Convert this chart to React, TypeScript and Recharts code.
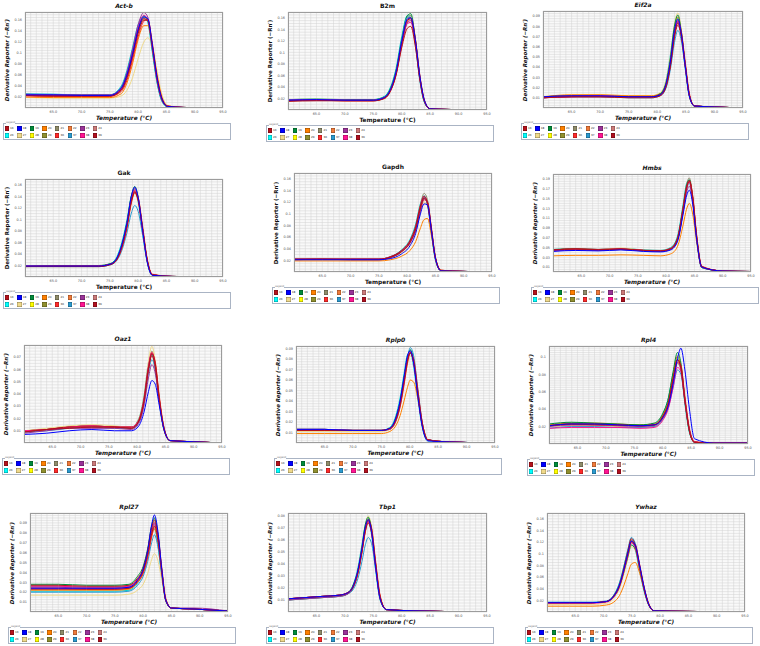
import { LineChart, Line, XAxis, YAxis, CartesianGrid } from "recharts";

// legend entries shared by every panel
const sampleIds = ["16", "18", "19", "20", "21", "22", "23", "24", "26", "27", "28", "29", "36", "37", "38", "39"];
const sampleColors = [
  "#b5121b", "#0000ff", "#008b3a", "#ff8000", "#8f8c6a", "#f07a3a", "#993399", "#cc7a7a",
  "#00ffff", "#efd98a", "#ffff00", "#8f8f2f", "#ff2a2a", "#2a9ad0", "#ff1493", "#b01020",
];
// colours of the drawn curves (subset of the legend)
const curveColors = [
  "#8f8c6a", "#efd98a", "#ff8000", "#008b3a", "#b5121b", "#993399", "#2a9ad0", "#0000ff",
  "#ff2a2a", "#ff1493", "#00d0d0", "#b01020",
];
// paint order: cyan first, blue last (on top)
const drawOrder = [10, 0, 1, 2, 3, 6, 8, 9, 5, 4, 11, 7];

const xTickLabels = [65, 70, 75, 80, 85, 90, 95];

const ticks02 = [0.02, 0.04, 0.06, 0.08, 0.1, 0.12, 0.14, 0.16];
const ticks01to09 = [0.01, 0.02, 0.03, 0.04, 0.05, 0.06, 0.07, 0.08, 0.09];
const oaz1YTicks = [0.01, 0.02, 0.03, 0.04, 0.05, 0.06, 0.07];
const tbp1YTicks = [0.01, 0.02, 0.03, 0.04, 0.05, 0.06, 0.07, 0.08];
const rpl4YTicks = [0.02, 0.04, 0.06, 0.08, 0.1];
const hmbsYTicks = [0.01, 0.03, 0.05, 0.07, 0.09, 0.11, 0.13, 0.15, 0.17, 0.19];

// ---- Act-b
const actbTemp = [60, 65, 70, 75, 77, 78, 79, 80, 81, 81.7, 82.5, 83.3, 84.2, 85.2, 88, 95];
const actbCurves = [
  [0.024, 0.023, 0.023, 0.023, 0.034, 0.058, 0.097, 0.14, 0.162, 0.158, 0.11, 0.055, 0.016, 0.003, 0.001, 0],
  [0.019, 0.018, 0.018, 0.018, 0.022, 0.032, 0.055, 0.09, 0.12, 0.128, 0.112, 0.07, 0.025, 0.005, 0.001, 0],
  [0.02, 0.019, 0.019, 0.019, 0.026, 0.045, 0.08, 0.125, 0.15, 0.15, 0.115, 0.062, 0.02, 0.004, 0.001, 0],
  [0.024, 0.023, 0.023, 0.023, 0.036, 0.062, 0.102, 0.145, 0.166, 0.16, 0.108, 0.052, 0.014, 0.003, 0.001, 0],
  [0.023, 0.022, 0.022, 0.022, 0.033, 0.057, 0.096, 0.14, 0.163, 0.16, 0.112, 0.056, 0.016, 0.003, 0.001, 0],
  [0.025, 0.024, 0.024, 0.024, 0.037, 0.064, 0.106, 0.152, 0.174, 0.166, 0.113, 0.054, 0.015, 0.003, 0.001, 0],
  [0.026, 0.025, 0.024, 0.024, 0.038, 0.065, 0.105, 0.148, 0.168, 0.16, 0.106, 0.05, 0.013, 0.002, 0.001, 0],
  [0.024, 0.024, 0.023, 0.023, 0.036, 0.06, 0.098, 0.143, 0.166, 0.163, 0.116, 0.058, 0.017, 0.003, 0.001, 0],
  [0.022, 0.021, 0.021, 0.021, 0.03, 0.05, 0.087, 0.13, 0.158, 0.162, 0.12, 0.062, 0.019, 0.004, 0.001, 0],
  [0.024, 0.023, 0.023, 0.023, 0.035, 0.06, 0.1, 0.146, 0.169, 0.162, 0.11, 0.053, 0.015, 0.003, 0.001, 0],
  [0.025, 0.025, 0.024, 0.024, 0.04, 0.068, 0.11, 0.152, 0.168, 0.156, 0.102, 0.048, 0.012, 0.002, 0.001, 0],
  [0.023, 0.022, 0.022, 0.022, 0.032, 0.054, 0.092, 0.136, 0.16, 0.16, 0.114, 0.058, 0.017, 0.003, 0.001, 0],
];

// ---- B2m
const b2mTemp = [60, 65, 70, 75, 77, 78, 79, 80, 81, 81.6, 82.4, 83.2, 84, 85, 88, 95];
const b2mCurves = [
  [0.017, 0.018, 0.017, 0.017, 0.022, 0.036, 0.067, 0.12, 0.162, 0.164, 0.12, 0.054, 0.014, 0.002, 0.001, 0],
  [0.016, 0.017, 0.016, 0.016, 0.02, 0.033, 0.062, 0.114, 0.157, 0.162, 0.124, 0.058, 0.016, 0.002, 0.001, 0],
  [0.017, 0.018, 0.017, 0.017, 0.022, 0.035, 0.066, 0.119, 0.16, 0.16, 0.121, 0.056, 0.015, 0.002, 0.001, 0],
  [0.018, 0.019, 0.018, 0.018, 0.023, 0.037, 0.068, 0.122, 0.164, 0.167, 0.123, 0.057, 0.015, 0.002, 0.001, 0],
  [0.015, 0.016, 0.016, 0.016, 0.02, 0.032, 0.06, 0.108, 0.142, 0.145, 0.11, 0.052, 0.015, 0.002, 0.001, 0],
  [0.017, 0.018, 0.017, 0.017, 0.022, 0.035, 0.064, 0.115, 0.152, 0.155, 0.116, 0.054, 0.015, 0.002, 0.001, 0],
  [0.018, 0.018, 0.017, 0.017, 0.023, 0.036, 0.067, 0.121, 0.161, 0.161, 0.117, 0.052, 0.013, 0.002, 0.001, 0],
  [0.017, 0.018, 0.017, 0.017, 0.022, 0.035, 0.066, 0.119, 0.158, 0.16, 0.122, 0.058, 0.017, 0.002, 0.001, 0],
  [0.016, 0.017, 0.016, 0.016, 0.021, 0.033, 0.061, 0.112, 0.153, 0.16, 0.124, 0.06, 0.017, 0.002, 0.001, 0],
  [0.017, 0.018, 0.017, 0.017, 0.022, 0.034, 0.063, 0.114, 0.15, 0.152, 0.115, 0.054, 0.015, 0.002, 0.001, 0],
  [0.018, 0.018, 0.018, 0.018, 0.024, 0.039, 0.072, 0.127, 0.164, 0.16, 0.113, 0.05, 0.013, 0.002, 0.001, 0],
  [0.016, 0.017, 0.016, 0.016, 0.021, 0.034, 0.063, 0.116, 0.156, 0.158, 0.12, 0.056, 0.016, 0.002, 0.001, 0],
];

// ---- Eif2a
const eif2aTemp = [60, 65, 70, 75, 79, 80.5, 81.5, 82.3, 83, 83.6, 84.2, 84.9, 85.6, 86.5, 90, 95];
const eif2aCurves = [
  [0.011, 0.012, 0.012, 0.011, 0.011, 0.013, 0.022, 0.044, 0.074, 0.086, 0.073, 0.042, 0.013, 0.002, 0.001, 0],
  [0.011, 0.012, 0.013, 0.012, 0.012, 0.015, 0.026, 0.051, 0.082, 0.093, 0.077, 0.043, 0.013, 0.002, 0.001, 0],
  [0.011, 0.013, 0.013, 0.012, 0.012, 0.014, 0.024, 0.048, 0.078, 0.089, 0.074, 0.041, 0.012, 0.002, 0.001, 0],
  [0.011, 0.012, 0.012, 0.011, 0.011, 0.014, 0.024, 0.049, 0.08, 0.091, 0.075, 0.041, 0.012, 0.002, 0.001, 0],
  [0.01, 0.011, 0.011, 0.01, 0.01, 0.012, 0.02, 0.041, 0.069, 0.081, 0.07, 0.041, 0.013, 0.002, 0.001, 0],
  [0.01, 0.011, 0.011, 0.011, 0.011, 0.012, 0.021, 0.042, 0.071, 0.084, 0.072, 0.042, 0.013, 0.002, 0.001, 0],
  [0.01, 0.011, 0.011, 0.01, 0.01, 0.012, 0.019, 0.038, 0.064, 0.076, 0.066, 0.039, 0.013, 0.002, 0.001, 0],
  [0.011, 0.012, 0.012, 0.011, 0.011, 0.013, 0.023, 0.046, 0.076, 0.087, 0.073, 0.041, 0.012, 0.002, 0.001, 0],
  [0.011, 0.012, 0.012, 0.011, 0.011, 0.013, 0.021, 0.042, 0.071, 0.085, 0.075, 0.045, 0.015, 0.002, 0.001, 0],
  [0.01, 0.011, 0.012, 0.011, 0.011, 0.013, 0.022, 0.045, 0.074, 0.085, 0.071, 0.04, 0.012, 0.002, 0.001, 0],
  [0.011, 0.012, 0.012, 0.011, 0.011, 0.014, 0.026, 0.052, 0.08, 0.088, 0.07, 0.038, 0.011, 0.002, 0.001, 0],
  [0.01, 0.011, 0.011, 0.011, 0.011, 0.013, 0.022, 0.043, 0.072, 0.083, 0.072, 0.042, 0.013, 0.002, 0.001, 0],
];

// ---- Gak
const gakTemp = [60, 65, 70, 73, 75, 76, 77, 78, 78.8, 79.4, 80, 80.8, 81.6, 82.5, 86, 95];
const gakCurves = [
  [0.019, 0.019, 0.019, 0.019, 0.022, 0.028, 0.05, 0.09, 0.136, 0.152, 0.136, 0.082, 0.028, 0.004, 0.001, 0],
  [0.018, 0.018, 0.018, 0.018, 0.021, 0.027, 0.047, 0.085, 0.128, 0.144, 0.131, 0.08, 0.029, 0.004, 0.001, 0],
  [0.019, 0.019, 0.019, 0.019, 0.022, 0.028, 0.049, 0.088, 0.133, 0.15, 0.136, 0.084, 0.03, 0.004, 0.001, 0],
  [0.02, 0.02, 0.02, 0.02, 0.023, 0.029, 0.052, 0.094, 0.141, 0.157, 0.139, 0.083, 0.028, 0.004, 0.001, 0],
  [0.018, 0.019, 0.019, 0.019, 0.022, 0.028, 0.049, 0.088, 0.132, 0.148, 0.134, 0.082, 0.029, 0.004, 0.001, 0],
  [0.019, 0.019, 0.019, 0.019, 0.022, 0.029, 0.051, 0.092, 0.138, 0.154, 0.137, 0.082, 0.028, 0.004, 0.001, 0],
  [0.018, 0.018, 0.018, 0.018, 0.021, 0.026, 0.043, 0.076, 0.111, 0.124, 0.114, 0.072, 0.027, 0.004, 0.001, 0],
  [0.019, 0.019, 0.019, 0.019, 0.022, 0.029, 0.052, 0.093, 0.14, 0.156, 0.138, 0.081, 0.027, 0.003, 0.001, 0],
  [0.019, 0.019, 0.019, 0.019, 0.022, 0.027, 0.046, 0.083, 0.128, 0.147, 0.138, 0.088, 0.032, 0.005, 0.001, 0],
  [0.019, 0.019, 0.019, 0.019, 0.022, 0.028, 0.05, 0.09, 0.135, 0.15, 0.134, 0.08, 0.027, 0.004, 0.001, 0],
  [0.019, 0.019, 0.019, 0.019, 0.023, 0.031, 0.056, 0.098, 0.14, 0.15, 0.13, 0.075, 0.025, 0.003, 0.001, 0],
  [0.018, 0.018, 0.018, 0.018, 0.021, 0.027, 0.048, 0.087, 0.131, 0.146, 0.133, 0.082, 0.03, 0.004, 0.001, 0],
];

// ---- Gapdh
const gapdhTemp = [60, 65, 70, 75, 77, 79, 80.5, 81.5, 82.3, 83, 83.6, 84.3, 85, 86, 90, 95];
const gapdhCurves = [
  [0.022, 0.022, 0.022, 0.022, 0.026, 0.037, 0.054, 0.079, 0.114, 0.135, 0.124, 0.073, 0.023, 0.002, 0.001, 0],
  [0.021, 0.021, 0.021, 0.021, 0.024, 0.033, 0.047, 0.068, 0.1, 0.12, 0.113, 0.068, 0.023, 0.002, 0.001, 0],
  [0.019, 0.019, 0.019, 0.019, 0.021, 0.027, 0.037, 0.052, 0.074, 0.09, 0.092, 0.062, 0.024, 0.003, 0.001, 0],
  [0.022, 0.022, 0.022, 0.022, 0.025, 0.035, 0.051, 0.074, 0.107, 0.127, 0.116, 0.068, 0.022, 0.002, 0.001, 0],
  [0.022, 0.022, 0.022, 0.022, 0.026, 0.037, 0.054, 0.078, 0.112, 0.13, 0.119, 0.071, 0.024, 0.002, 0.001, 0],
  [0.022, 0.022, 0.022, 0.022, 0.025, 0.035, 0.05, 0.073, 0.106, 0.126, 0.116, 0.069, 0.022, 0.002, 0.001, 0],
  [0.022, 0.023, 0.022, 0.022, 0.026, 0.036, 0.052, 0.076, 0.109, 0.128, 0.12, 0.072, 0.024, 0.002, 0.001, 0],
  [0.021, 0.021, 0.021, 0.021, 0.023, 0.031, 0.045, 0.066, 0.098, 0.117, 0.115, 0.071, 0.024, 0.002, 0.001, 0],
  [0.022, 0.022, 0.022, 0.022, 0.025, 0.035, 0.05, 0.071, 0.103, 0.124, 0.12, 0.076, 0.026, 0.003, 0.001, 0],
  [0.022, 0.022, 0.022, 0.022, 0.026, 0.036, 0.053, 0.077, 0.111, 0.13, 0.118, 0.07, 0.023, 0.002, 0.001, 0],
  [0.022, 0.022, 0.022, 0.022, 0.026, 0.038, 0.056, 0.082, 0.116, 0.131, 0.115, 0.065, 0.02, 0.002, 0.001, 0],
  [0.021, 0.022, 0.021, 0.021, 0.025, 0.035, 0.051, 0.074, 0.108, 0.127, 0.119, 0.073, 0.025, 0.003, 0.001, 0],
];

// ---- Hmbs
const hmbsTemp = [60, 64, 68, 72, 76, 79, 80.8, 82, 83, 83.6, 84.1, 84.7, 85.4, 86.3, 90, 95];
const hmbsCurves = [
  [0.046, 0.048, 0.046, 0.048, 0.045, 0.044, 0.049, 0.07, 0.134, 0.178, 0.192, 0.154, 0.071, 0.01, 0.002, 0.001],
  [0.044, 0.046, 0.045, 0.049, 0.044, 0.043, 0.047, 0.066, 0.127, 0.17, 0.186, 0.151, 0.071, 0.01, 0.002, 0.001],
  [0.033, 0.034, 0.034, 0.035, 0.034, 0.033, 0.037, 0.052, 0.096, 0.128, 0.14, 0.118, 0.06, 0.01, 0.002, 0.001],
  [0.045, 0.047, 0.045, 0.047, 0.044, 0.043, 0.048, 0.069, 0.132, 0.175, 0.188, 0.15, 0.068, 0.009, 0.002, 0.001],
  [0.045, 0.047, 0.046, 0.047, 0.044, 0.043, 0.048, 0.068, 0.13, 0.173, 0.187, 0.151, 0.07, 0.01, 0.002, 0.001],
  [0.043, 0.045, 0.044, 0.046, 0.043, 0.042, 0.046, 0.064, 0.122, 0.162, 0.175, 0.143, 0.068, 0.01, 0.002, 0.001],
  [0.044, 0.046, 0.044, 0.046, 0.043, 0.042, 0.047, 0.066, 0.126, 0.168, 0.181, 0.146, 0.068, 0.009, 0.002, 0.001],
  [0.042, 0.044, 0.043, 0.045, 0.042, 0.041, 0.045, 0.062, 0.118, 0.155, 0.167, 0.138, 0.067, 0.01, 0.002, 0.001],
  [0.045, 0.047, 0.046, 0.047, 0.044, 0.043, 0.047, 0.065, 0.124, 0.168, 0.185, 0.156, 0.076, 0.012, 0.002, 0.001],
  [0.044, 0.046, 0.045, 0.047, 0.044, 0.043, 0.048, 0.068, 0.13, 0.172, 0.184, 0.148, 0.068, 0.01, 0.002, 0.001],
  [0.046, 0.048, 0.046, 0.048, 0.045, 0.044, 0.05, 0.073, 0.138, 0.18, 0.188, 0.146, 0.064, 0.009, 0.002, 0.001],
  [0.045, 0.047, 0.045, 0.047, 0.044, 0.043, 0.047, 0.067, 0.128, 0.171, 0.185, 0.152, 0.072, 0.011, 0.002, 0.001],
];

// ---- Oaz1
const oaz1Temp = [60, 64, 68, 72, 76, 79, 80.3, 81.2, 82, 82.6, 83.2, 83.9, 84.7, 85.8, 90, 95];
const oaz1Curves = [
  [0.01, 0.011, 0.013, 0.014, 0.013, 0.013, 0.019, 0.036, 0.063, 0.075, 0.064, 0.036, 0.012, 0.002, 0.001, 0],
  [0.01, 0.012, 0.014, 0.015, 0.014, 0.013, 0.02, 0.038, 0.067, 0.079, 0.067, 0.037, 0.012, 0.002, 0.001, 0],
  [0.01, 0.011, 0.013, 0.014, 0.013, 0.013, 0.019, 0.035, 0.062, 0.074, 0.064, 0.036, 0.012, 0.002, 0.001, 0],
  [0.01, 0.011, 0.013, 0.014, 0.013, 0.013, 0.019, 0.036, 0.062, 0.073, 0.063, 0.036, 0.013, 0.002, 0.001, 0],
  [0.009, 0.011, 0.013, 0.013, 0.013, 0.012, 0.018, 0.034, 0.06, 0.071, 0.062, 0.035, 0.012, 0.002, 0.001, 0],
  [0.008, 0.01, 0.012, 0.012, 0.012, 0.011, 0.016, 0.03, 0.053, 0.064, 0.057, 0.034, 0.012, 0.002, 0.001, 0],
  [0.009, 0.01, 0.012, 0.013, 0.012, 0.012, 0.017, 0.032, 0.057, 0.068, 0.06, 0.035, 0.013, 0.002, 0.001, 0],
  [0.007, 0.008, 0.01, 0.011, 0.01, 0.01, 0.014, 0.025, 0.042, 0.051, 0.048, 0.031, 0.012, 0.002, 0.001, 0],
  [0.01, 0.011, 0.013, 0.014, 0.013, 0.013, 0.018, 0.034, 0.06, 0.073, 0.066, 0.039, 0.014, 0.002, 0.001, 0],
  [0.01, 0.011, 0.013, 0.014, 0.013, 0.013, 0.019, 0.036, 0.063, 0.074, 0.063, 0.035, 0.012, 0.002, 0.001, 0],
  [0.01, 0.011, 0.013, 0.014, 0.013, 0.013, 0.02, 0.038, 0.065, 0.072, 0.06, 0.033, 0.011, 0.002, 0.001, 0],
  [0.009, 0.011, 0.012, 0.013, 0.013, 0.012, 0.018, 0.034, 0.061, 0.073, 0.065, 0.037, 0.013, 0.002, 0.001, 0],
];

// ---- Rplp0
const rplp0Temp = [60, 65, 70, 75, 76.5, 77.5, 78.3, 79, 79.6, 80.1, 80.7, 81.4, 82.2, 83.2, 87, 95];
const rplp0Curves = [
  [0.013, 0.013, 0.012, 0.012, 0.014, 0.022, 0.038, 0.061, 0.081, 0.088, 0.078, 0.049, 0.018, 0.003, 0.001, 0],
  [0.011, 0.011, 0.011, 0.011, 0.013, 0.02, 0.035, 0.056, 0.075, 0.083, 0.076, 0.05, 0.019, 0.003, 0.001, 0],
  [0.009, 0.009, 0.009, 0.009, 0.011, 0.016, 0.026, 0.04, 0.053, 0.06, 0.058, 0.043, 0.019, 0.003, 0.001, 0],
  [0.013, 0.013, 0.012, 0.012, 0.014, 0.023, 0.039, 0.062, 0.082, 0.089, 0.079, 0.049, 0.017, 0.003, 0.001, 0],
  [0.012, 0.012, 0.012, 0.012, 0.014, 0.022, 0.038, 0.06, 0.079, 0.086, 0.076, 0.047, 0.017, 0.003, 0.001, 0],
  [0.013, 0.013, 0.012, 0.012, 0.014, 0.022, 0.037, 0.059, 0.079, 0.086, 0.077, 0.049, 0.018, 0.003, 0.001, 0],
  [0.012, 0.012, 0.012, 0.012, 0.013, 0.02, 0.035, 0.057, 0.08, 0.091, 0.083, 0.053, 0.02, 0.003, 0.001, 0],
  [0.013, 0.013, 0.012, 0.012, 0.014, 0.023, 0.04, 0.063, 0.083, 0.088, 0.076, 0.046, 0.016, 0.002, 0.001, 0],
  [0.012, 0.012, 0.012, 0.012, 0.013, 0.02, 0.034, 0.055, 0.076, 0.086, 0.08, 0.052, 0.02, 0.003, 0.001, 0],
  [0.013, 0.013, 0.012, 0.012, 0.014, 0.022, 0.038, 0.061, 0.081, 0.087, 0.076, 0.047, 0.017, 0.003, 0.001, 0],
  [0.013, 0.013, 0.012, 0.012, 0.015, 0.025, 0.043, 0.066, 0.084, 0.086, 0.072, 0.043, 0.015, 0.002, 0.001, 0],
  [0.012, 0.012, 0.012, 0.012, 0.014, 0.021, 0.036, 0.058, 0.078, 0.086, 0.078, 0.05, 0.019, 0.003, 0.001, 0],
];

// ---- Rpl4
const rpl4Temp = [60, 64, 68, 72, 76, 78.5, 80, 81, 81.8, 82.6, 83.2, 83.9, 84.7, 85.6, 89, 95];
const rpl4Curves = [
  [0.021, 0.023, 0.023, 0.022, 0.021, 0.022, 0.031, 0.047, 0.073, 0.096, 0.087, 0.05, 0.015, 0.002, 0.001, 0.001],
  [0.019, 0.021, 0.021, 0.02, 0.019, 0.02, 0.029, 0.044, 0.069, 0.092, 0.085, 0.05, 0.016, 0.002, 0.001, 0.001],
  [0.022, 0.024, 0.024, 0.023, 0.022, 0.023, 0.033, 0.05, 0.078, 0.101, 0.09, 0.051, 0.015, 0.002, 0.001, 0.001],
  [0.023, 0.025, 0.024, 0.023, 0.022, 0.024, 0.035, 0.053, 0.082, 0.105, 0.093, 0.051, 0.014, 0.002, 0.001, 0.001],
  [0.021, 0.023, 0.023, 0.022, 0.021, 0.022, 0.032, 0.048, 0.075, 0.097, 0.087, 0.049, 0.015, 0.002, 0.001, 0.001],
  [0.02, 0.022, 0.022, 0.021, 0.02, 0.021, 0.03, 0.046, 0.071, 0.093, 0.085, 0.049, 0.015, 0.002, 0.001, 0.001],
  [0.018, 0.02, 0.02, 0.019, 0.019, 0.02, 0.028, 0.042, 0.064, 0.085, 0.08, 0.048, 0.016, 0.002, 0.001, 0.001],
  [0.021, 0.023, 0.023, 0.022, 0.021, 0.022, 0.03, 0.044, 0.068, 0.098, 0.11, 0.085, 0.04, 0.006, 0.001, 0.001],
  [0.021, 0.022, 0.022, 0.021, 0.021, 0.022, 0.03, 0.045, 0.07, 0.094, 0.09, 0.055, 0.018, 0.003, 0.001, 0.001],
  [0.018, 0.019, 0.019, 0.019, 0.018, 0.019, 0.027, 0.041, 0.064, 0.088, 0.083, 0.05, 0.016, 0.002, 0.001, 0.001],
  [0.022, 0.024, 0.023, 0.022, 0.021, 0.023, 0.034, 0.053, 0.08, 0.1, 0.086, 0.046, 0.013, 0.002, 0.001, 0.001],
  [0.021, 0.023, 0.022, 0.022, 0.021, 0.022, 0.031, 0.047, 0.073, 0.097, 0.089, 0.052, 0.016, 0.002, 0.001, 0.001],
];

// ---- Rpl27
const rpl27Temp = [60, 65, 70, 75, 77.5, 79, 80, 80.8, 81.5, 82, 82.6, 83.3, 84, 85, 89, 95];
const rpl27Curves = [
  [0.026, 0.026, 0.025, 0.025, 0.026, 0.033, 0.043, 0.061, 0.083, 0.091, 0.076, 0.041, 0.012, 0.004, 0.003, 0.001],
  [0.017, 0.017, 0.017, 0.017, 0.018, 0.022, 0.028, 0.039, 0.053, 0.059, 0.052, 0.032, 0.011, 0.004, 0.003, 0.001],
  [0.022, 0.022, 0.022, 0.022, 0.023, 0.03, 0.039, 0.056, 0.076, 0.084, 0.071, 0.039, 0.012, 0.004, 0.003, 0.001],
  [0.028, 0.028, 0.027, 0.027, 0.028, 0.036, 0.046, 0.064, 0.087, 0.095, 0.079, 0.042, 0.012, 0.004, 0.003, 0.001],
  [0.023, 0.023, 0.023, 0.023, 0.024, 0.031, 0.041, 0.058, 0.079, 0.087, 0.073, 0.04, 0.012, 0.004, 0.003, 0.001],
  [0.025, 0.025, 0.024, 0.024, 0.025, 0.032, 0.042, 0.059, 0.081, 0.089, 0.075, 0.04, 0.012, 0.004, 0.004, 0.001],
  [0.02, 0.02, 0.02, 0.02, 0.021, 0.027, 0.036, 0.051, 0.07, 0.078, 0.066, 0.037, 0.012, 0.004, 0.003, 0.001],
  [0.024, 0.024, 0.024, 0.024, 0.025, 0.032, 0.043, 0.062, 0.088, 0.098, 0.082, 0.043, 0.012, 0.004, 0.003, 0.001],
  [0.024, 0.024, 0.023, 0.023, 0.024, 0.03, 0.039, 0.055, 0.076, 0.086, 0.078, 0.045, 0.014, 0.004, 0.003, 0.001],
  [0.026, 0.026, 0.025, 0.025, 0.026, 0.033, 0.043, 0.061, 0.083, 0.09, 0.075, 0.04, 0.012, 0.004, 0.003, 0.001],
  [0.021, 0.021, 0.021, 0.021, 0.022, 0.029, 0.04, 0.058, 0.079, 0.084, 0.068, 0.036, 0.011, 0.004, 0.003, 0.001],
  [0.027, 0.027, 0.026, 0.026, 0.027, 0.034, 0.044, 0.062, 0.085, 0.093, 0.078, 0.042, 0.012, 0.004, 0.003, 0.001],
];

// ---- Tbp1
const tbp1Temp = [60, 63, 66, 69, 70.5, 71.5, 72.3, 73, 73.6, 74.1, 74.7, 75.4, 76.2, 77.3, 82, 95];
const tbp1Curves = [
  [0.011, 0.012, 0.013, 0.014, 0.016, 0.022, 0.034, 0.053, 0.071, 0.078, 0.069, 0.04, 0.012, 0.002, 0.001, 0],
  [0.011, 0.012, 0.013, 0.014, 0.016, 0.022, 0.035, 0.054, 0.072, 0.08, 0.071, 0.041, 0.012, 0.002, 0.001, 0],
  [0.01, 0.011, 0.012, 0.013, 0.015, 0.021, 0.032, 0.05, 0.068, 0.075, 0.067, 0.04, 0.013, 0.002, 0.001, 0],
  [0.011, 0.012, 0.013, 0.014, 0.016, 0.023, 0.035, 0.054, 0.073, 0.079, 0.069, 0.039, 0.011, 0.002, 0.001, 0],
  [0.011, 0.012, 0.013, 0.014, 0.016, 0.021, 0.033, 0.05, 0.067, 0.074, 0.066, 0.039, 0.012, 0.002, 0.001, 0],
  [0.01, 0.011, 0.012, 0.013, 0.015, 0.021, 0.033, 0.051, 0.069, 0.076, 0.067, 0.039, 0.012, 0.002, 0.001, 0],
  [0.01, 0.011, 0.012, 0.013, 0.015, 0.019, 0.028, 0.042, 0.056, 0.062, 0.057, 0.036, 0.012, 0.002, 0.001, 0],
  [0.011, 0.012, 0.013, 0.014, 0.016, 0.022, 0.035, 0.053, 0.071, 0.077, 0.067, 0.038, 0.011, 0.002, 0.001, 0],
  [0.011, 0.012, 0.013, 0.014, 0.016, 0.021, 0.032, 0.049, 0.067, 0.076, 0.07, 0.043, 0.014, 0.002, 0.001, 0],
  [0.011, 0.012, 0.013, 0.014, 0.016, 0.022, 0.034, 0.052, 0.069, 0.075, 0.066, 0.038, 0.011, 0.002, 0.001, 0],
  [0.01, 0.011, 0.012, 0.013, 0.015, 0.023, 0.037, 0.056, 0.072, 0.076, 0.064, 0.035, 0.01, 0.002, 0.001, 0],
  [0.011, 0.012, 0.013, 0.014, 0.016, 0.022, 0.034, 0.052, 0.07, 0.077, 0.069, 0.041, 0.013, 0.002, 0.001, 0],
];

// ---- Ywhaz
const ywhazTemp = [60, 64, 68, 70.5, 71.8, 72.8, 73.6, 74.3, 74.9, 75.6, 76.4, 77.2, 78, 79, 85, 95];
const ywhazCurves = [
  [0.016, 0.016, 0.016, 0.018, 0.027, 0.046, 0.074, 0.103, 0.124, 0.114, 0.076, 0.038, 0.012, 0.002, 0.001, 0],
  [0.013, 0.013, 0.013, 0.015, 0.023, 0.04, 0.065, 0.092, 0.112, 0.106, 0.074, 0.039, 0.013, 0.002, 0.001, 0],
  [0.01, 0.01, 0.01, 0.012, 0.017, 0.028, 0.046, 0.066, 0.082, 0.085, 0.066, 0.038, 0.014, 0.002, 0.001, 0],
  [0.016, 0.016, 0.016, 0.018, 0.026, 0.043, 0.069, 0.095, 0.115, 0.108, 0.073, 0.037, 0.012, 0.002, 0.001, 0],
  [0.016, 0.016, 0.016, 0.018, 0.028, 0.047, 0.076, 0.105, 0.126, 0.115, 0.076, 0.038, 0.012, 0.002, 0.001, 0],
  [0.016, 0.016, 0.016, 0.018, 0.027, 0.045, 0.073, 0.101, 0.121, 0.112, 0.076, 0.039, 0.012, 0.002, 0.001, 0],
  [0.017, 0.017, 0.017, 0.019, 0.029, 0.049, 0.078, 0.108, 0.128, 0.118, 0.078, 0.039, 0.012, 0.002, 0.001, 0],
  [0.016, 0.016, 0.016, 0.018, 0.027, 0.046, 0.073, 0.101, 0.122, 0.115, 0.079, 0.041, 0.013, 0.002, 0.001, 0],
  [0.016, 0.016, 0.016, 0.018, 0.026, 0.043, 0.07, 0.097, 0.119, 0.116, 0.081, 0.042, 0.014, 0.002, 0.001, 0],
  [0.015, 0.015, 0.015, 0.017, 0.026, 0.044, 0.071, 0.099, 0.119, 0.11, 0.074, 0.037, 0.012, 0.002, 0.001, 0],
  [0.016, 0.016, 0.016, 0.018, 0.029, 0.05, 0.079, 0.106, 0.12, 0.107, 0.069, 0.034, 0.011, 0.002, 0.001, 0],
  [0.016, 0.016, 0.016, 0.018, 0.027, 0.045, 0.072, 0.1, 0.121, 0.114, 0.078, 0.04, 0.013, 0.002, 0.001, 0],
];

const panels = [
  { name: "Act-b", temp: actbTemp, curves: actbCurves, yMax: 0.175, yMajor: ticks02, yStep: 0.005, left: 25, top: 12, w: 198, h: 96, italic: true },
  { name: "B2m", temp: b2mTemp, curves: b2mCurves, yMax: 0.17, yMajor: ticks02, yStep: 0.005, left: 288, top: 12, w: 199, h: 98, italic: false },
  { name: "Eif2a", temp: eif2aTemp, curves: eif2aCurves, yMax: 0.095, yMajor: ticks01to09, yStep: 0.0025, left: 543, top: 11, w: 200, h: 97, italic: true },
  { name: "Gak", temp: gakTemp, curves: gakCurves, yMax: 0.17, yMajor: ticks02, yStep: 0.005, left: 25, top: 179, w: 198, h: 98, italic: false },
  { name: "Gapdh", temp: gapdhTemp, curves: gapdhCurves, yMax: 0.17, yMajor: ticks02, yStep: 0.005, left: 294, top: 173, w: 198, h: 99, italic: false },
  { name: "Hmbs", temp: hmbsTemp, curves: hmbsCurves, yMax: 0.2, yMajor: hmbsYTicks, yStep: 0.005, left: 553, top: 174, w: 198, h: 98, italic: true },
  { name: "Oaz1", temp: oaz1Temp, curves: oaz1Curves, yMax: 0.08, yMajor: oaz1YTicks, yStep: 0.0025, left: 24, top: 345, w: 198, h: 98, italic: true },
  { name: "Rplp0", temp: rplp0Temp, curves: rplp0Curves, yMax: 0.0925, yMajor: ticks01to09, yStep: 0.0025, left: 296, top: 346, w: 199, h: 97, italic: true },
  { name: "Rpl4", temp: rpl4Temp, curves: rpl4Curves, yMax: 0.1125, yMajor: rpl4YTicks, yStep: 0.0025, left: 549, top: 346, w: 199, h: 98, italic: true },
  { name: "Rpl27", temp: rpl27Temp, curves: rpl27Curves, yMax: 0.1, yMajor: ticks01to09, yStep: 0.0025, left: 30, top: 513, w: 198, h: 99, italic: true },
  { name: "Tbp1", temp: tbp1Temp, curves: tbp1Curves, yMax: 0.0825, yMajor: tbp1YTicks, yStep: 0.0025, left: 288, top: 513, w: 199, h: 99, italic: true },
  { name: "Ywhaz", temp: ywhazTemp, curves: ywhazCurves, yMax: 0.17, yMajor: ticks02, yStep: 0.005, left: 547, top: 513, w: 198, h: 99, italic: true },
];

const FONT = "'DejaVu Sans', Verdana, sans-serif";
const xGrid = Array.from({ length: 36 }, (_, i) => 60 + i);

function Legend({ left, top }: { left: number; top: number }) {
  return (
    <div
      style={{
        position: "absolute", left, top, width: 228, height: 17, boxSizing: "border-box",
        border: "1px solid #aab4c4", background: "#fff", fontFamily: FONT,
      }}
    >
      <div style={{ position: "absolute", left: 2, top: -3, fontSize: 2.5, color: "#777", background: "#fff", lineHeight: "3px" }}>Legend</div>
      {sampleIds.map((id, i) => {
        const row = i < 8 ? 0 : 1;
        const col = i % 8;
        return (
          <div key={id} style={{ position: "absolute", left: 0.5 + col * 12.6, top: 2 + row * 7.3, height: 5 }}>
            <div
              style={{
                position: "absolute", left: 0, top: 0, width: 4.5, height: 4.5,
                background: sampleColors[i], boxShadow: "inset 0 0 0 0.4px rgba(0,0,0,0.45)",
              }}
            />
            <div style={{ position: "absolute", left: 5.6, top: 0.6, fontSize: 2.8, lineHeight: "3.2px", color: "#333" }}>{id}</div>
          </div>
        );
      })}
    </div>
  );
}

function Panel({ p }: { p: (typeof panels)[number] }) {
  const YW = 22;
  const XH = 12;
  const RM = 8;
  const rows = p.temp.map((t, i) => {
    const r: Record<string, number> = { t };
    p.curves.forEach((c, k) => {
      r["s" + k] = c[i];
    });
    return r;
  });
  const nY = Math.floor(p.yMax / p.yStep + 1e-6) + 1;
  const yGrid = Array.from({ length: nY }, (_, i) => Math.round(i * p.yStep * 100000) / 100000);
  const isMajor = (v: number) => p.yMajor.some((m) => Math.abs(m - v) < 1e-6);
  const fontStyle = p.italic ? "italic" : "normal";
  const labelStyle = { fontFamily: FONT, fontWeight: 700, fontStyle, color: "#111", whiteSpace: "nowrap" as const };

  return (
    <>
      <div style={{ position: "absolute", left: p.left - YW, top: p.top - 1 }}>
        <LineChart width={p.w + YW + RM} height={p.h + XH + 1} data={rows} margin={{ top: 1, right: RM, bottom: 0, left: 0 }}>
          <CartesianGrid stroke="#d2d2d2" strokeWidth={0.5} fill="#f9f9f9" />
          <XAxis
            dataKey="t"
            type="number"
            domain={[60, 95]}
            ticks={xGrid}
            interval={0}
            allowDataOverflow
            height={XH}
            tickLine={false}
            axisLine={false}
            tickSize={2}
            tickMargin={1}
            tick={{ fontSize: 3.4, fill: "#555", fontFamily: FONT }}
            tickFormatter={(v: number) => (xTickLabels.includes(v) ? v.toFixed(1) : "")}
          />
          <YAxis
            type="number"
            domain={[0, p.yMax]}
            ticks={yGrid}
            interval={0}
            allowDataOverflow
            width={YW}
            tickLine={false}
            axisLine={false}
            tickSize={2}
            tickMargin={1}
            tick={{ fontSize: 3.4, fill: "#555", fontFamily: FONT }}
            tickFormatter={(v: number) => (isMajor(v) ? String(v) : "")}
          />
          {drawOrder.map((k) => (
            <Line
              key={k}
              dataKey={"s" + k}
              type="monotone"
              stroke={curveColors[k]}
              strokeWidth={1}
              dot={false}
              isAnimationActive={false}
            />
          ))}
        </LineChart>
      </div>
      <div
        style={{
          position: "absolute", left: p.left, top: p.top, width: p.w, height: p.h,
          boxSizing: "border-box", border: "1px solid #9c9c9c", pointerEvents: "none",
        }}
      />
      <div style={{ ...labelStyle, position: "absolute", left: p.left, top: p.top - 10, width: p.w, textAlign: "center", fontSize: 6, lineHeight: "8px" }}>
        {p.name}
      </div>
      <div style={{ ...labelStyle, position: "absolute", left: p.left, top: p.top + p.h + 6, width: p.w, textAlign: "center", fontSize: 5.8, lineHeight: "8px" }}>
        Temperature (°C)
      </div>
      <div
        style={{
          ...labelStyle, position: "absolute", left: p.left - 18 - 60, top: p.top + p.h / 2 - 4, width: 120,
          textAlign: "center", fontSize: 5.5, lineHeight: "8px", transform: "rotate(-90deg)",
        }}
      >
        Derivative Reporter (−Rn′)
      </div>
      <Legend left={p.left - 22} top={p.top + p.h + 15} />
    </>
  );
}

export default function App() {
  return (
    <div style={{ position: "absolute", left: 0, top: 0, width: 760, height: 646, background: "#fff", overflow: "hidden" }}>
      {panels.map((p) => (
        <Panel key={p.name} p={p} />
      ))}
    </div>
  );
}
